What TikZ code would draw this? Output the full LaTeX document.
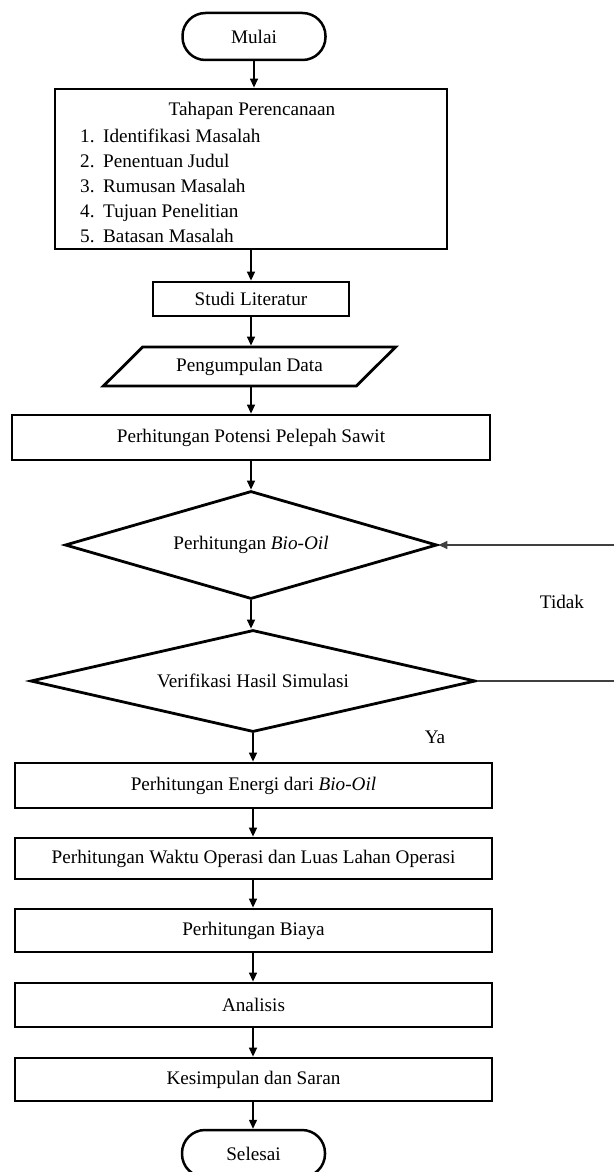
\documentclass[tikz,border=0pt]{standalone}
\usepackage{fontspec}
\setmainfont{Liberation Serif}
\usetikzlibrary{shapes.geometric,arrows.meta}
\begin{document}
\begin{tikzpicture}[x=1pt,y=-1pt,
  every node/.style={font=\fontsize{19.2}{23}\selectfont},
  box/.style={draw,line width=2.8pt,rectangle,inner sep=0pt},
  term/.style={draw,line width=2.5pt,rectangle,rounded corners=23pt,minimum width=143pt,minimum height=47pt,inner sep=0pt},
  dec/.style={draw,line width=2.8pt,diamond,aspect=5,inner sep=0pt},
  io/.style={draw,line width=2.8pt,trapezium,trapezium left angle=33,trapezium right angle=147,trapezium stretches=true,inner sep=0pt},
  arr/.style={line width=1.4pt,-{Triangle[length=9pt,width=8pt]}},
  back/.style={line width=1.3pt,draw=black!75},
  lbl/.style={inner sep=0pt,text height=13pt,text depth=4pt},
]
\useasboundingbox (0,0) rectangle (614,1172);
\clip (0,0) rectangle (614,1172);
\node[term] (mulai) at (254,36.5) {Mulai};
\node[box,minimum width=392pt,minimum height=160pt] (plan) at (251,169) {};
\node[lbl] (title) at (252,110.5) {Tahapan Perencanaan};
\node[lbl,anchor=west] (i1) at (80,137.5) {\makebox[23pt][l]{1.}Identifikasi Masalah};
\node[lbl,anchor=west] (i2) at (80,162.5) {\makebox[23pt][l]{2.}Penentuan Judul};
\node[lbl,anchor=west] (i3) at (80,187.5) {\makebox[23pt][l]{3.}Rumusan Masalah};
\node[lbl,anchor=west] (i4) at (80,212.5) {\makebox[23pt][l]{4.}Tujuan Penelitian};
\node[lbl,anchor=west] (i5) at (80,238) {\makebox[23pt][l]{5.}Batasan Masalah};
\node[box,minimum width=196pt,minimum height=34pt] (studi) at (251,299) {Studi Literatur};
\node[io,minimum width=293pt,minimum height=39pt] (data) at (249.5,366.5) {Pengumpulan Data};
\node[box,minimum width=478pt,minimum height=45pt] (potensi) at (251,437.5) {Perhitungan Potensi Pelepah Sawit};
\node[dec,minimum width=372pt,minimum height=108pt] (d1) at (251,545) {Perhitungan \textit{Bio-Oil}};
\node[dec,minimum width=445pt,minimum height=102pt] (d2) at (253,681) {Verifikasi Hasil Simulasi};
\node[box,minimum width=477pt,minimum height=45pt] (energi) at (253.5,785.5) {Perhitungan Energi dari \textit{Bio-Oil}};
\node[box,minimum width=477pt,minimum height=41pt] (waktu) at (253.5,858.5) {Perhitungan Waktu Operasi dan Luas Lahan Operasi};
\node[box,minimum width=477pt,minimum height=43pt] (biaya) at (253.5,930.5) {Perhitungan Biaya};
\node[box,minimum width=477pt,minimum height=44pt] (analisis) at (253.5,1005) {Analisis};
\node[box,minimum width=477pt,minimum height=43pt] (kesimpulan) at (253.5,1079.5) {Kesimpulan dan Saran};
\node[term] (selesai) at (253.5,1153.5) {Selesai};
\node[lbl] (tidak) at (562,604) {Tidak};
\node[lbl] (ya) at (435,739) {Ya};
\coordinate (r1) at (614,545);
\coordinate (r2) at (614,681);
\draw[arr] (mulai.south) -- (mulai.south |- plan.north);
\draw[arr] (plan.south -| studi.north) -- (studi.north);
\draw[arr] (studi.south) -- (studi.south |- data.north);
\draw[arr] (data.south -| potensi.north) -- (potensi.north);
\draw[arr] (potensi.south) -- (d1.north);
\draw[arr] (d1.south) -- (d1.south |- d2.north);
\draw[arr] (d2.south) -- (d2.south |- energi.north);
\draw[arr] (energi.south -| d2.south) -- (d2.south |- waktu.north);
\draw[arr] (waktu.south -| d2.south) -- (d2.south |- biaya.north);
\draw[arr] (biaya.south -| d2.south) -- (d2.south |- analisis.north);
\draw[arr] (analisis.south -| d2.south) -- (d2.south |- kesimpulan.north);
\draw[arr] (kesimpulan.south -| d2.south) -- (d2.south |- selesai.north);
\draw[back] (d2.east) -- (r2);
\draw[back,-{Triangle[length=9pt,width=8pt]}] (r1) -- (d1.east);
\end{tikzpicture}
\end{document}
